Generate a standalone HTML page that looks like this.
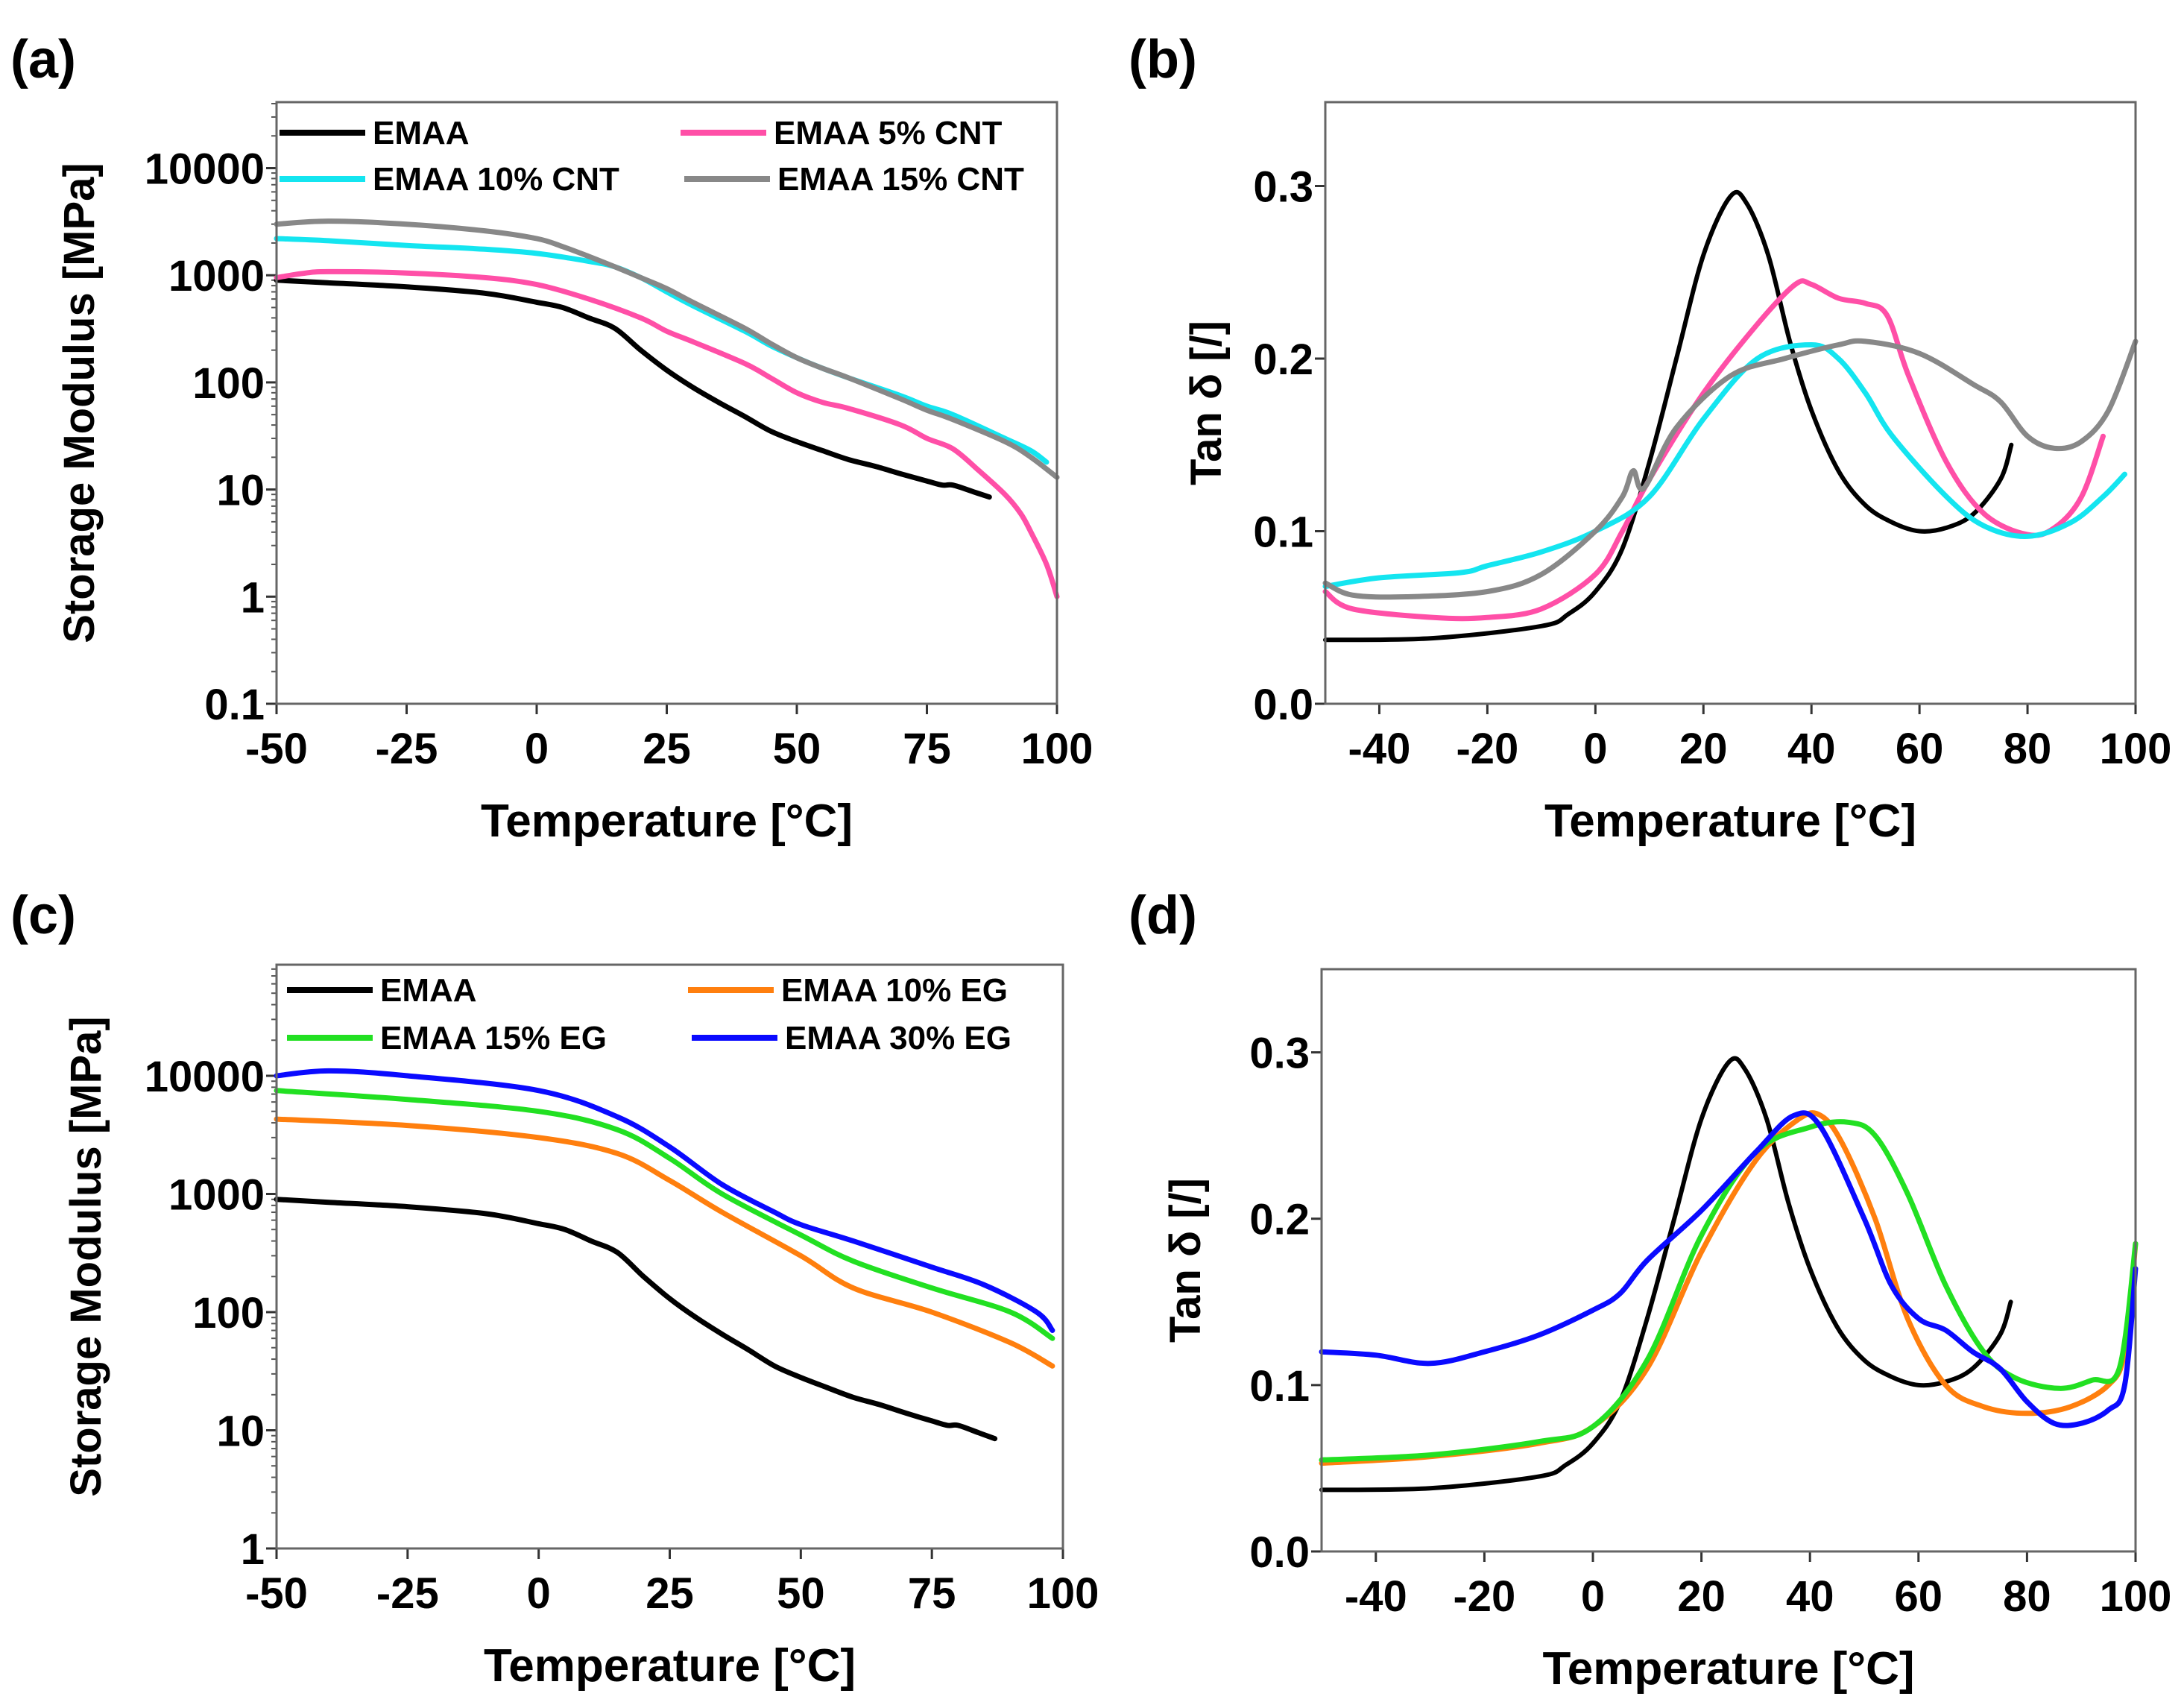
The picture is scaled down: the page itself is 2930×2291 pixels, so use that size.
<!DOCTYPE html>
<html><head><meta charset="utf-8">
<style>
html,body{margin:0;padding:0;background:#fff;}
svg{display:block;font-family:"Liberation Sans",Arial,sans-serif;font-weight:bold;}
</style></head>
<body>
<svg id="fig" width="2930" height="2291" viewBox="0 0 2930 2291" xmlns="http://www.w3.org/2000/svg"></svg>
<script>
// ---------- data ----------
const emaaT = [-50,-40,-25,-10,0,5,10,15,20,25,30,35,40,45,50,55,60,65,70,75,78,80,84,87];
const emaaE = [900,850,780,680,560,500,400,320,200,130,90,65,48,35,28,23,19,16.5,14,12,11,11,9.5,8.5];
const cnt5T = [-50,-45,-40,-25,-10,0,10,20,25,30,40,45,50,55,60,70,75,80,85,90,93,95,98,100];
const cnt5E = [950,1040,1080,1050,950,820,600,400,300,240,150,110,80,65,57,40,30,24,15,9,6,4,2,1];
const cnt10T = [-50,-40,-25,-10,0,10,15,20,25,30,40,45,50,55,60,70,75,80,90,95,98];
const cnt10E = [2200,2100,1900,1750,1600,1350,1200,950,700,520,300,220,170,135,110,75,60,50,30,23,18];
const cnt15T = [-50,-40,-25,-10,0,5,10,15,20,25,30,40,45,50,55,60,70,75,80,90,95,100];
const cnt15E = [3000,3200,3000,2600,2200,1850,1500,1200,950,750,560,320,230,170,135,110,70,55,45,28,20,13];

const tdT = [-50,-30,-10,-5,0,5,10,15,20,25,28,32,36,40,45,50,55,60,65,70,75,77];
const tdE = [0.037,0.038,0.045,0.052,0.065,0.09,0.14,0.2,0.26,0.294,0.29,0.26,0.21,0.17,0.135,0.115,0.105,0.1,0.102,0.11,0.13,0.15];
const td5T = [-50,-45,-30,-20,-10,0,5,10,20,30,37,40,45,50,54,58,65,72,80,85,90,94];
const td5E = [0.065,0.055,0.05,0.05,0.055,0.075,0.1,0.13,0.18,0.22,0.243,0.243,0.235,0.232,0.225,0.19,0.14,0.11,0.098,0.102,0.12,0.155];
const td10T = [-50,-40,-25,-20,-10,0,10,20,30,40,45,50,55,65,72,80,88,94,98];
const td10E = [0.068,0.073,0.076,0.08,0.088,0.1,0.12,0.165,0.2,0.208,0.2,0.18,0.155,0.12,0.103,0.097,0.105,0.12,0.133];
const td15T = [-50,-45,-35,-20,-10,0,5,7,9,15,25,35,45,50,60,70,75,80,85,90,95,100];
const td15E = [0.07,0.063,0.062,0.065,0.075,0.1,0.12,0.135,0.125,0.16,0.19,0.2,0.208,0.21,0.203,0.185,0.175,0.155,0.148,0.152,0.17,0.21];

const eg10T = [-50,-25,0,15,25,35,50,60,75,90,98];
const eg10E = [4300,3800,3000,2200,1300,700,300,160,100,55,35];
const eg15T = [-50,-25,0,15,25,35,50,60,75,90,98];
const eg15E = [7500,6300,5000,3500,2000,1000,450,270,160,100,60];
const eg30T = [-50,-40,-25,0,15,25,35,45,50,60,75,85,95,98];
const eg30E = [10000,11000,10000,7500,4500,2500,1200,700,550,400,240,170,100,70];

const tg10T = [-50,-30,-10,0,10,20,30,38,42,46,52,58,65,72,80,88,95,98,100];
const tg10E = [0.053,0.057,0.065,0.075,0.11,0.18,0.235,0.26,0.262,0.245,0.2,0.14,0.1,0.087,0.083,0.087,0.1,0.12,0.185];
const tg15T = [-50,-30,-10,0,10,20,30,40,47,52,58,65,72,78,86,92,97,100];
const tg15E = [0.055,0.058,0.066,0.075,0.115,0.19,0.24,0.255,0.258,0.25,0.215,0.16,0.12,0.104,0.098,0.103,0.11,0.185];
const tg30T = [-50,-40,-30,-20,-10,0,5,10,20,30,37,42,50,55,60,65,70,75,80,85,90,95,98,100];
const tg30E = [0.12,0.118,0.113,0.12,0.13,0.145,0.155,0.175,0.205,0.24,0.262,0.255,0.2,0.16,0.14,0.133,0.12,0.11,0.09,0.077,0.077,0.085,0.1,0.17];

const xTicksA = [-50,-25,0,25,50,75,100];
const xTicksB = [-40,-20,0,20,40,60,80,100];
const yTicksA = [0.1,1,10,100,1000,10000];
const yLabelsA = ["0.1","1","10","100","1000","10000"];
const yTicksC = [1,10,100,1000,10000];
const yLabelsC = ["1","10","100","1000","10000"];
const yTicksB = [0,0.1,0.2,0.3];
const yLabelsB = ["0.0","0.1","0.2","0.3"];

// ---------- drawing ----------
const NS = "http://www.w3.org/2000/svg";
const svg = document.getElementById('fig');
function mk(tag, attrs, parent){const e=document.createElementNS(NS,tag);for(const k in attrs)e.setAttribute(k,attrs[k]);(parent||svg).appendChild(e);return e;}

function smoothPath(pts){
  let d = 'M'+pts[0][0].toFixed(1)+','+pts[0][1].toFixed(1);
  for(let i=0;i<pts.length-1;i++){
    const p0=pts[Math.max(0,i-1)], p1=pts[i], p2=pts[i+1], p3=pts[Math.min(pts.length-1,i+2)];
    const c1x=p1[0]+(p2[0]-p0[0])/6, c1y=p1[1]+(p2[1]-p0[1])/6;
    const c2x=p2[0]-(p3[0]-p1[0])/6, c2y=p2[1]-(p3[1]-p1[1])/6;
    d+=' C'+c1x.toFixed(1)+','+c1y.toFixed(1)+' '+c2x.toFixed(1)+','+c2y.toFixed(1)+' '+p2[0].toFixed(1)+','+p2[1].toFixed(1);
  }
  return d;
}

function panel(p){
  const g = mk('g',{});
  
  
  const xs = v => p.L + (v - p.xmin)/(p.xmax - p.xmin)*(p.R - p.L);
  const ys = p.log ? (v => p.B - (Math.log10(v) - p.ymin)/(p.ymax - p.ymin)*(p.B - p.T))
                   : (v => p.B - (v - p.ymin)/(p.ymax - p.ymin)*(p.B - p.T));
  p.xt.forEach(v=>{
    const t = mk('line',{x1:xs(v),x2:xs(v),y1:p.B,y2:p.B+14,stroke:'#333','stroke-width':3},g);
    
    
    const l = mk('text',{x:xs(v),y:p.B+80,'text-anchor':'middle','font-size':58},g);
    l.textContent = v;
    
    
  });
  p.yt.forEach((v,i)=>{
    const t = mk('line',{x1:p.L-14,x2:p.L,y1:ys(v),y2:ys(v),stroke:'#333','stroke-width':3},g);
    
    
    const l = mk('text',{x:p.L-16,y:ys(v)+21,'text-anchor':'end','font-size':58},g);
    l.textContent = p.yl[i];
    
    
  });
  if(p.log){
    for(let d=Math.floor(p.ymin); d<p.ymax; d++){
      for(let m=2;m<10;m++){
        const v=m*Math.pow(10,d); if(Math.log10(v)>p.ymax) break;
        mk('line',{x1:p.L-7,x2:p.L,y1:ys(v),y2:ys(v),stroke:'#555','stroke-width':2},g);
      }
    }
  }
  p.series.forEach(s=>{
    const pts = s.t.map((t,i)=>[xs(t), ys(s.v[i])]);
    const path = mk('path',{d:smoothPath(pts),fill:'none',stroke:s.c,'stroke-width':s.w||7,'stroke-linejoin':'round','stroke-linecap':'round'},g);
    
    
  });
  const fr = mk('rect',{x:p.L,y:p.T,width:p.R-p.L,height:p.B-p.T,fill:'none',stroke:'#666','stroke-width':3},g);
  
  
  const xt = mk('text',{x:(p.L+p.R)/2,y:p.B+178,'text-anchor':'middle','font-size':62},g);
  xt.textContent = 'Temperature [°C]';
  
  
  const yt = mk('text',{x:0,y:0,'text-anchor':'middle','font-size':58,transform:`translate(${p.ytx},${(p.T+p.B)/2+p.yty}) rotate(-90)`},g);
  yt.textContent = p.ytitle;
  
  
  const lb = mk('text',{x:p.lx,y:p.ly,'font-size':72},g);
  lb.textContent = p.label;
  
  
  (p.legend||[]).forEach(e=>{
    const lg = mk('g',{},g);
    
    
    mk('line',{x1:e.x,x2:e.x+115,y1:e.y,y2:e.y,stroke:e.c,'stroke-width':8},lg);
    const tx = mk('text',{x:e.x+125,y:e.y+15,'font-size':44},lg);
    tx.textContent = e.t;
  });
}

panel({name:'panel-a-storage-modulus-cnt',L:371,R:1418,T:137,B:944,xmin:-50,xmax:100,log:true,ymin:-1,ymax:4.616,
  xt:xTicksA,yt:yTicksA,yl:yLabelsA,ytitle:'Storage Modulus  [MPa]',ytx:126,yty:0,label:'(a)',lx:14,ly:104,
  series:[{n:'emaa-line',t:emaaT,v:emaaE,c:'#000'},{n:'emaa-5cnt-line',t:cnt5T,v:cnt5E,c:'#ff4fa7'},
          {n:'emaa-10cnt-line',t:cnt10T,v:cnt10E,c:'#14e5f0'},{n:'emaa-15cnt-line',t:cnt15T,v:cnt15E,c:'#888'}],
  legend:[{x:375,y:178,c:'#000',t:'EMAA'},{x:913,y:178,c:'#ff4fa7',t:'EMAA 5% CNT'},
          {x:375,y:240,c:'#14e5f0',t:'EMAA 10% CNT'},{x:918,y:240,c:'#888',t:'EMAA 15% CNT'}]});

panel({name:'panel-b-tan-delta-cnt',L:1778,R:2865,T:137,B:944,xmin:-50,xmax:100,log:false,ymin:0,ymax:0.3486,
  xt:xTicksB,yt:yTicksB,yl:yLabelsB,ytitle:'Tan δ [/]',ytx:1638,yty:0,label:'(b)',lx:1514,ly:104,
  series:[{n:'emaa-tan-line',t:tdT,v:tdE,c:'#000',w:6},{n:'emaa-5cnt-tan-line',t:td5T,v:td5E,c:'#ff4fa7'},
          {n:'emaa-10cnt-tan-line',t:td10T,v:td10E,c:'#14e5f0'},{n:'emaa-15cnt-tan-line',t:td15T,v:td15E,c:'#888'}]});

panel({name:'panel-c-storage-modulus-eg',L:371,R:1426,T:1294,B:2077,xmin:-50,xmax:100,log:true,ymin:0,ymax:4.94,
  xt:xTicksA,yt:yTicksC,yl:yLabelsC,ytitle:'Storage Modulus [MPa]',ytx:135,yty:0,label:'(c)',lx:14,ly:1252,
  series:[{n:'emaa-line',t:emaaT,v:emaaE,c:'#000'},{n:'emaa-10eg-line',t:eg10T,v:eg10E,c:'#ff7f0e'},
          {n:'emaa-15eg-line',t:eg15T,v:eg15E,c:'#22e022'},{n:'emaa-30eg-line',t:eg30T,v:eg30E,c:'#0a0aff'}],
  legend:[{x:385,y:1328,c:'#000',t:'EMAA'},{x:923,y:1328,c:'#ff7f0e',t:'EMAA 10% EG'},
          {x:385,y:1392,c:'#22e022',t:'EMAA 15% EG'},{x:928,y:1392,c:'#0a0aff',t:'EMAA 30% EG'}]});

panel({name:'panel-d-tan-delta-eg',L:1773,R:2865,T:1300,B:2081,xmin:-50,xmax:100,log:false,ymin:0,ymax:0.35,
  xt:xTicksB,yt:yTicksB,yl:yLabelsB,ytitle:'Tan δ [/]',ytx:1610,yty:0,label:'(d)',lx:1514,ly:1252,
  series:[{n:'emaa-tan-line',t:tdT,v:tdE,c:'#000',w:6},{n:'emaa-10eg-tan-line',t:tg10T,v:tg10E,c:'#ff7f0e'},
          {n:'emaa-15eg-tan-line',t:tg15T,v:tg15E,c:'#22e022'},{n:'emaa-30eg-tan-line',t:tg30T,v:tg30E,c:'#0a0aff'}]});
</script>
</body></html>
